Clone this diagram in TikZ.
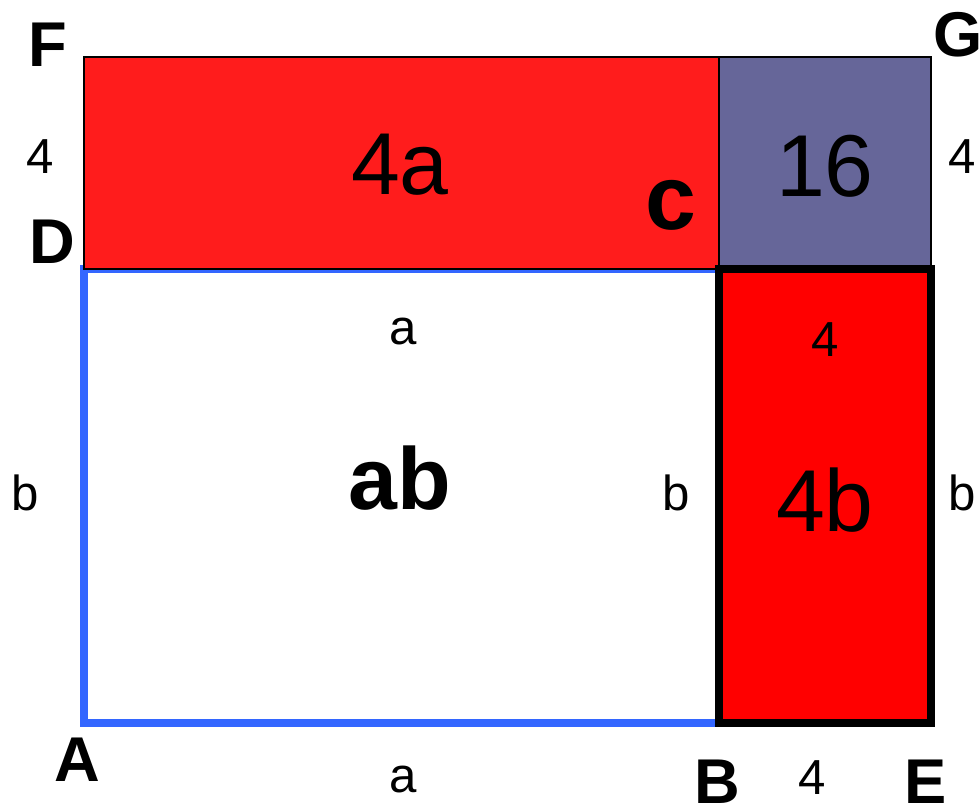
\documentclass[tikz,border=0pt]{standalone}
\usepackage{fontspec}
\setmainfont{Liberation Sans}
\definecolor{topred}{HTML}{FF1C1C}
\definecolor{sqgray}{HTML}{666699}
\definecolor{abblue}{HTML}{3366FF}
\begin{document}
\begin{tikzpicture}[
  corner/.style={font=\fontsize{18}{20}\selectfont\bfseries},
  side/.style={font=\fontsize{14}{16}\selectfont},
  area/.style={font=\fontsize{25}{28}\selectfont}]
% Set the frame of the picture
\useasboundingbox (0,0) rectangle (9.8,8.11);

% Corner points
\coordinate (A) at (0.84, 0.88);
\coordinate (B) at (7.19, 0.88);
\coordinate (E) at (9.31, 0.88);
\coordinate (D) at (0.84, 5.42);
\coordinate (C) at (7.19, 5.42);
\coordinate (F) at (0.84, 7.54);
\coordinate (G) at (9.31, 7.54);

% Draw the rectangles
\draw[abblue, line width=2.3pt] (A) rectangle (C);
\draw[fill=topred, line width=0.5pt] (D) rectangle (C |- F);
\draw[fill=sqgray, line width=0.5pt] (C) rectangle (G);
\draw[fill=red, line width=2.3pt] (B) rectangle (E |- C);

% Insert the corner letters
\node[corner] (lF) at (0.48, 7.66) {F};
\node[corner] (lG) at (9.58, 7.76) {G};
\node[corner] (lD) at (0.52, 5.69) {D};
\node[corner] (lA) at (0.77, 0.51) {A};
\node[corner] (lB) at (7.17, 0.29) {B};
\node[corner] (lE) at (9.26, 0.29) {E};
\node[font=\fontsize{26}{28}\selectfont\bfseries] (lC) at (6.71, 6.06) {c};

% Insert the side lengths
\node[side] (fd) at (0.40, 6.54) {4};
\node[side] (gc) at (9.62, 6.54) {4};
\node[side] (cd) at (4.03, 4.79) {a};
\node[side] (ab) at (4.03, 0.31) {a};
\node[side] (da) at (0.25, 3.18) {b};
\node[side] (cb) at (6.76, 3.18) {b};
\node[side] (ge) at (9.62, 3.18) {b};
\node[side] (ce) at (8.25, 4.71) {4};
\node[side] (be) at (8.12, 0.33) {4};

% Insert the areas
\node[area] (n4a) at (4.00, 6.46) {4a};
\node[area] (n16) at (8.25, 6.45) {16};
\node[area, font=\fontsize{25}{28}\selectfont\bfseries] (nab) at (4.00, 3.33) {ab};
\node[area] (n4b) at (8.25, 3.11) {4b};
\end{tikzpicture}
\end{document}
